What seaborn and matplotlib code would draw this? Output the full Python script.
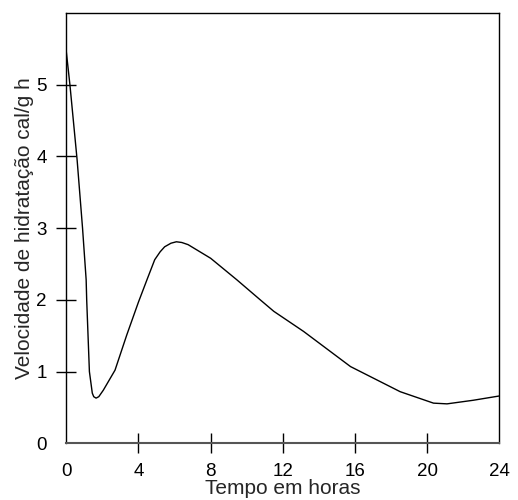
import matplotlib
matplotlib.use("Agg")
import matplotlib.pyplot as plt
import seaborn as sns
import pandas as pd

tempo_horas = [0, 0.2, 0.6, 0.9, 1.1, 1.13, 1.28, 1.44, 1.52, 1.65, 1.8, 2.05, 2.7, 3.35,
               4.0, 4.5, 4.9, 5.2, 5.45, 5.8, 6.1, 6.4, 6.75, 8.0, 9.45, 10.75, 11.5,
               13.15, 15.75, 18.5, 20.35, 21.1, 22.55, 24]
velocidade = [5.46, 5.0, 3.95, 3.0, 2.28, 2.0, 1.0, 0.70, 0.65, 0.63, 0.65, 0.74, 1.02, 1.51,
              1.97, 2.30, 2.56, 2.67, 2.74, 2.79, 2.81, 2.80, 2.77, 2.58, 2.28, 2.0, 1.84,
              1.56, 1.07, 0.72, 0.56, 0.55, 0.60, 0.66]
x_ticks = [0, 4, 8, 12, 16, 20, 24]
y_ticks = [0, 1, 2, 3, 4, 5]

sns.set_style("white")
plt.rcParams['font.family'] = ['Liberation Sans', 'DejaVu Sans']

df = pd.DataFrame({"Tempo": tempo_horas, "Velocidade": velocidade})

fig = plt.figure(figsize=(5.18, 5.0), dpi=100)
ax = fig.add_axes([0.128, 0.1134, 0.836, 0.8606])
sns.lineplot(data=df, x="Tempo", y="Velocidade", ax=ax, color="black",
             linewidth=1.0, sort=False)

ax.set_xlim(0, 24)
ax.set_ylim(0, 6)
ax.set_xticks(x_ticks)
ax.set_yticks(y_ticks)
ax.set_xticklabels([str(t) for t in x_ticks])
ax.set_yticklabels([str(t) for t in y_ticks])
ax.tick_params(axis="both", direction="inout", length=15, width=1.0,
               color="black", labelsize=13.5, labelcolor="black",
               bottom=True, left=True, top=False, right=False)
ax.tick_params(axis="x", pad=7)
ax.tick_params(axis="y", pad=6.5)

xt = ax.xaxis.get_major_ticks()
xt[0].tick1line.set_visible(False)
xt[-1].tick1line.set_visible(False)
yt = ax.yaxis.get_major_ticks()
yt[0].tick1line.set_visible(False)

ax.set_xlabel("Tempo em horas", fontsize=15, labelpad=-1)
ax.set_ylabel("Velocidade de hidratação cal/g h", fontsize=15, labelpad=2)

for side in ["top", "right", "left"]:
    ax.spines[side].set_color("black")
    ax.spines[side].set_linewidth(1.0)
ax.spines["bottom"].set_color("#555555")
ax.spines["bottom"].set_linewidth(1.5)

fig.savefig("out.png", dpi=100)
